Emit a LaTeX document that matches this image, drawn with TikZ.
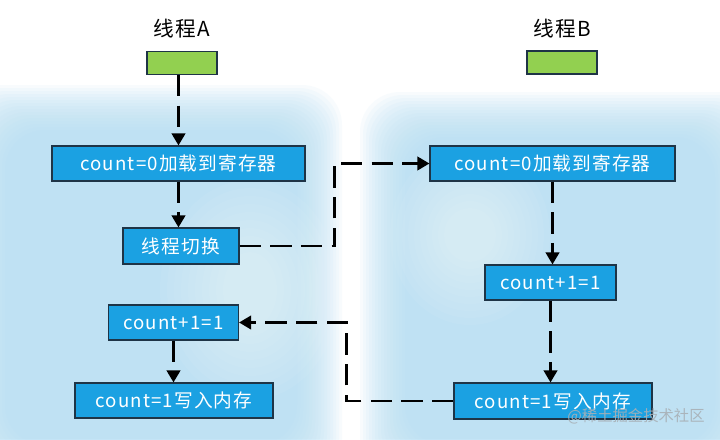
\documentclass[tikz,border=0pt]{standalone}
\usepackage{fontspec}
\newfontfamily\cjk{Noto Sans CJK SC}
\newfontfamily\cjkls{Noto Sans CJK SC}[LetterSpace=6]
\usetikzlibrary{arrows.meta}
\definecolor{boxblue}{HTML}{1BA1E2}
\definecolor{boxline}{HTML}{1E3446}
\definecolor{thgreen}{HTML}{92D050}
\definecolor{glow}{HTML}{B3DDF3}
\definecolor{wmark}{HTML}{A8B0B6}
\begin{document}
\begin{tikzpicture}[x=0.75pt,y=-0.75pt,
  stepbox/.style={draw=boxline,line width=0.8pt,fill=boxblue,text=white,inner sep=0pt,
    minimum height=26.25pt,font=\cjkls\fontsize{14}{16}\selectfont},
  thread/.style={draw=boxline,line width=0.8pt,fill=thgreen,minimum width=52.5pt,
    minimum height=17.25pt,inner sep=0pt},
  title/.style={font=\cjkls\fontsize{15.5}{18}\selectfont,text=black,inner sep=0pt},
  flow/.style={draw=black,line width=2pt,dash pattern=on 16pt off 7pt,
    -{Triangle[width=10pt,length=9pt]}},
]
\useasboundingbox (0,0) rectangle (720,439);
\fill[white] (0,0) rectangle (720,439);
% soft blue glow behind the two columns
\begin{scope}
\clip (0,0) rectangle (720,439);
\foreach \i in {0,...,15} {
  \fill[glow,opacity=0.09,rounded corners=30pt] (-40+\i*3,85+\i*3) rectangle (342-\i*3,490-\i*3);
  \fill[glow,opacity=0.09,rounded corners=30pt] (360+\i*3,92+\i*3) rectangle (760-\i*3,490-\i*3);
}
\foreach \i in {0,...,9} {
  \fill[white,opacity=0.05] (250,290) ellipse ({90-\i*7} and {110-\i*8});
  \fill[white,opacity=0.05] (470,235) ellipse ({80-\i*6} and {90-\i*7});
}
\end{scope}
% thread headers
\node[title] (tA) at (182,29) {线程A};
\node[title] (tB) at (562,29) {线程B};
\node[thread] (gA) at (182,63) {};
\node[thread] (gB) at (562,62.5) {};
% steps
\node[stepbox,minimum width=189.75pt] (A1) at (178.5,163.5) {count=0加载到寄存器};
\node[stepbox,minimum width=87pt,minimum height=27pt] (A2) at (181,246) {线程切换};
\node[stepbox,minimum width=97.5pt] (A3) at (173.5,322.5) {count+1=1};
\node[stepbox,minimum width=148.5pt] (A4) at (174,400.5) {count=1写入内存};
\node[stepbox,minimum width=183.75pt] (B1) at (552.5,163.5) {count=0加载到寄存器};
\node[stepbox,minimum width=98.25pt] (B2) at (550.5,282.5) {count+1=1};
\node[stepbox,minimum width=148.5pt,minimum height=27pt] (B3) at (553,401) {count=1写入内存};
% connectors
\draw[flow] (gA.south -| A1.north) -- (A1.north);
\draw[flow] (A1.south) -- (A1.south |- A2.north);
\draw[flow] (A2.east) -- ++(95,0) |- (B1.west);
\draw[flow] (B1.south) -- (B1.south |- B2.north);
\draw[flow] (B2.south) -- (B2.south |- B3.north);
\draw[flow] (B3.west) -- ++(-107,0) |- (A3.east);
\draw[flow] (A3.south) -- (A3.south |- A4.north);
% watermark
\node[font=\cjk\fontsize{11.5}{13}\selectfont,text=wmark,opacity=0.9,inner sep=0pt] (wm) at (636,416) {@稀土掘金技术社区};
\end{tikzpicture}
\end{document}
